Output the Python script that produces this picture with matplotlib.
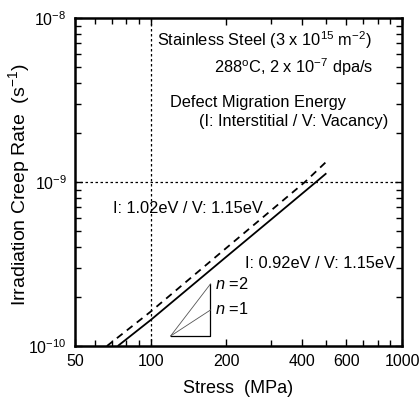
import matplotlib
matplotlib.use("Agg")
import matplotlib.pyplot as plt
from matplotlib.ticker import FixedLocator, NullFormatter, FixedFormatter
import numpy as np

plt.rcParams['font.family'] = ['Liberation Sans', 'DejaVu Sans']
plt.rcParams['mathtext.fontset'] = 'custom'
plt.rcParams['mathtext.rm'] = 'Liberation Sans'
plt.rcParams['mathtext.it'] = 'Liberation Sans:italic'

# Data
stress_solid = [74, 100, 200, 300, 455, 500]
rate_solid = [1.0e-10, 1.44e-10, 3.50e-10, 5.87e-10, 1.0e-9, 1.13e-9]
stress_dashed = [67, 100, 200, 300, 411, 500]
rate_dashed = [1.0e-10, 1.62e-10, 3.96e-10, 6.67e-10, 1.0e-9, 1.33e-9]

tri_x = [120, 173]
tri_y0 = 1.15e-10

xticks_major = [50, 100, 200, 400, 600, 1000]
xtick_labels = ['50', '100', '200', '400', '600', '1000']
xticks_minor = [60, 70, 80, 90, 300, 500, 700, 800, 900]

fig = plt.figure(figsize=(4.19, 4.01), dpi=100)
ax = fig.add_axes([75/419, 1-346/401, 327/419, 328/401])
ax.set_xscale('log')
ax.set_yscale('log')
ax.set_xlim(50, 1000)
ax.set_ylim(1e-10, 1e-8)

ax.plot(stress_solid, rate_solid, color='black', lw=1.3, solid_capstyle='butt')
ax.plot(stress_dashed, rate_dashed, color='black', lw=1.3, dashes=(4, 3))

# slope triangle
x0, x1 = tri_x
y1 = tri_y0 * (x1 / x0)
y2 = tri_y0 * (x1 / x0) ** 2
ax.plot([x0, x1, x1], [tri_y0, tri_y0, y2], color='black', lw=0.9)
ax.plot([x0, x1], [tri_y0, y2], color='#555555', lw=0.6)
ax.plot([x0, x1], [tri_y0, y1], color='#555555', lw=0.6)

ax.axvline(100, color='black', lw=0.9, ls=(0, (2, 2)))
ax.axhline(1e-9, color='black', lw=0.9, ls=(0, (2, 2)))

for s in ax.spines.values():
    s.set_linewidth(1.8)

ax.xaxis.set_major_locator(FixedLocator(xticks_major))
ax.xaxis.set_major_formatter(FixedFormatter(xtick_labels))
ax.xaxis.set_minor_locator(FixedLocator(xticks_minor))
ax.xaxis.set_minor_formatter(NullFormatter())
ax.yaxis.set_major_locator(FixedLocator([1e-10, 1e-9, 1e-8]))
ax.yaxis.set_major_formatter(FixedFormatter([r'10$^{-10}$', r'10$^{-9}$', r'10$^{-8}$']))
ax.yaxis.set_minor_locator(FixedLocator([k * 10.0 ** e for e in (-10, -9) for k in range(2, 10)]))
ax.yaxis.set_minor_formatter(NullFormatter())
ax.tick_params(which='both', direction='in', top=True, right=True, width=1.0, labelsize=11.5)
ax.tick_params(which='major', length=5, pad=6)
ax.tick_params(which='minor', length=4)

ax.set_xlabel('Stress  (MPa)', fontsize=13, labelpad=8)
ax.set_ylabel(r'Irradiation Creep Rate  (s$^{-1}$)', fontsize=14)
ax.yaxis.set_label_coords((32 - 75) / 327, (346 - 185) / 328)

fs = 11.8
def ftext(px, py, s, ha='left', **kw):
    fig.text(px / 419, 1 - py / 401, s, ha=ha, va='center', fontsize=fs, **kw)

ftext(157, 40, r'Stainless Steel (3 x 10$^{15}$ m$^{-2}$)')
ftext(373, 67, r'288$^{\rm o}$C, 2 x 10$^{-7}$ dpa/s', ha='right')
ftext(170, 103, 'Defect Migration Energy')
ftext(388, 122, '(I: Interstitial / V: Vacancy)', ha='right')
ftext(113, 209, 'I: 1.02eV / V: 1.15eV')
ftext(395, 264, 'I: 0.92eV / V: 1.15eV', ha='right')
ftext(215, 284, r'$n$ =2')
ftext(215, 309, r'$n$ =1')

fig.savefig('out.png', dpi=100)
